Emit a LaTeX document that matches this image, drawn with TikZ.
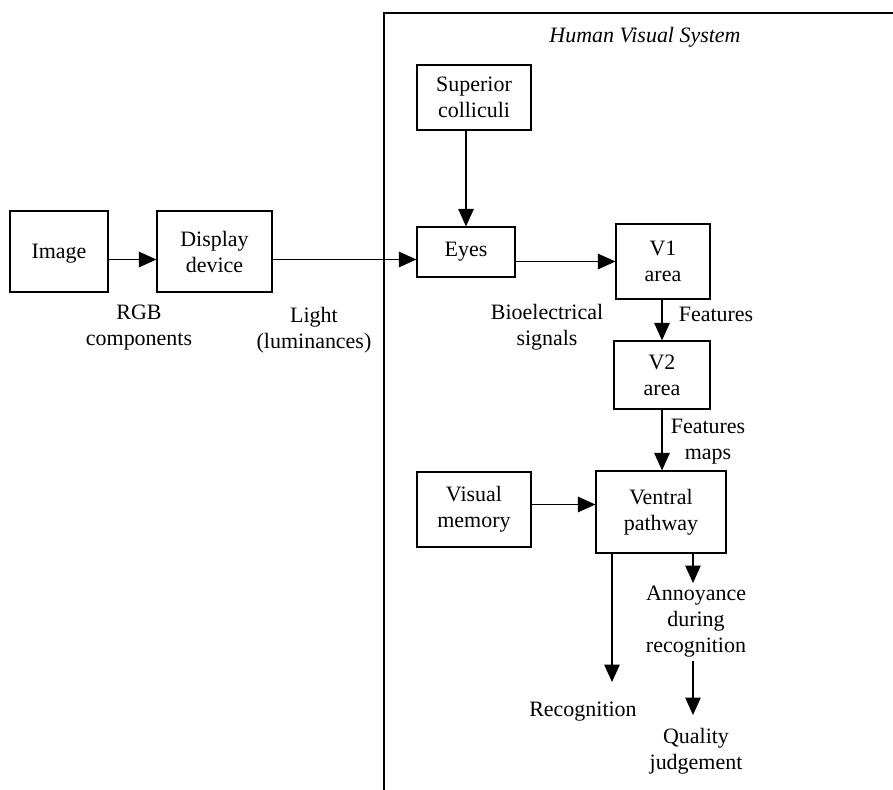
\documentclass[tikz,border=0pt]{standalone}
\usepackage{fontspec}
\setmainfont{Liberation Serif}
\usetikzlibrary{arrows.meta}

\tikzset{
	blk/.style={draw, line width=0.7pt, inner sep=0pt, align=center},
	lbl/.style={align=center, inner sep=2pt},
	arr/.style={line width=0.7pt, -{Triangle[length=0.35cm, width=0.31cm]}}
}

\begin{document}
\begin{tikzpicture}[x=0.02cm, y=-0.02cm, font=\fontsize{12.5}{14.8}\selectfont]
			%%%%% START %%%%%
			\useasboundingbox (0, 0) rectangle (893, 790);
			
			% frame of the visual system
			\draw[line width=0.8pt] (893, 13) -- (384, 13) -- (384, 790);
			\node[lbl, font=\fontsize{12.5}{14.8}\selectfont\itshape] (hvs) at (645, 37) {Human Visual System};
			
			\node[blk, minimum width=1.96cm, minimum height=1.62cm, text depth=-0.12cm] (img) at (59, 251.5) {Image};
			\node[blk, minimum width=2.3cm, minimum height=1.62cm] (disp) at (214.5, 251.5) {Display\\device};
			\node[blk, minimum width=2.28cm, minimum height=1.3cm] (sc) at (474, 97.5) {Superior\\colliculi};
			\node[blk, minimum width=1.96cm, minimum height=1.0cm] (eyes) at (466, 252) {Eyes};
			\node[blk, minimum width=1.88cm, minimum height=1.5cm] (v1) at (663, 261.5) {V1\\area};
			\node[blk, minimum width=1.92cm, minimum height=1.36cm] (v2) at (662, 375) {V2\\area};
			\node[blk, minimum width=2.28cm, minimum height=1.5cm] (vm) at (474, 509.5) {Visual\\memory};
			\node[blk, minimum width=2.6cm, minimum height=1.64cm] (vp) at (661, 512) {Ventral\\pathway};
			
			\node[lbl] (rgb) at (139, 328) {RGB\\components};
			\node[lbl] (light) at (314, 330) {Light\\(luminances)};
			\node[lbl] (bio) at (547, 327) {Bioelectrical\\signals};
			\node[lbl] (feat) at (716, 314) {Features};
			\node[lbl] (fmaps) at (708, 442) {Features\\maps};
			\node[lbl] (recog) at (583, 712) {Recognition};
			\node[lbl] (annoy) at (696, 622) {Annoyance\\during\\recognition};
			\node[lbl] (qual) at (696, 751) {Quality\\judgement};
			
			\coordinate (recarr) at (612, 682);
			\coordinate (annarr) at (693, 583);
			\coordinate (qualarr) at (693, 715);
			
			\draw[arr] ([yshift=-0.16cm]img.east) -- ([yshift=-0.16cm]disp.west);
			\draw[arr] ([yshift=-0.16cm]disp.east) -- ([yshift=-0.16cm]disp.east -| eyes.west);
			\draw[arr] (sc.south -| eyes.north) -- (eyes.north);
			\draw[arr] (v1.west -| eyes.east) -- (v1.west);
			\draw[arr] (v1.south -| v2.north) -- (v2.north);
			\draw[arr] (v2.south) -- (v2.south |- vp.north);
			\draw[arr] ([yshift=0.1cm]vm.east) -- ([yshift=0.1cm]vm.east -| vp.west);
			\draw[arr] (recarr |- vp.south) -- (recarr);
			\draw[arr] (annarr |- vp.south) -- (annarr);
			\draw[arr] (qualarr |- annoy.south) -- (qualarr);
			
			%%%%% END %%%%%
		\end{tikzpicture}
\end{document}
